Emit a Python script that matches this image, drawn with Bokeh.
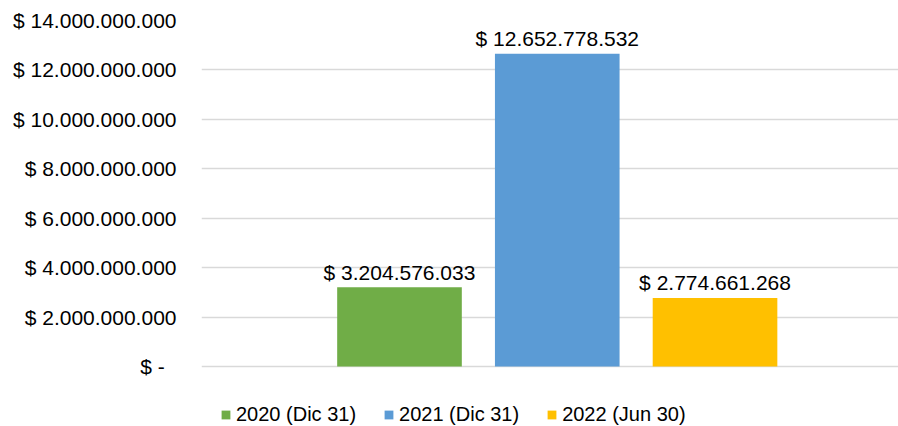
from bokeh.plotting import figure
from bokeh.models import Range1d, FixedTicker, Legend, LegendItem, ColumnDataSource
from bokeh.core.properties import value
from bokeh.embed import file_html
from bokeh.resources import INLINE

# ---- data ----
series = ["2020 (Dic 31)", "2021 (Dic 31)", "2022 (Jun 30)"]
amounts = [3204576033, 12652778532, 2774661268]
amount_labels = ["$ 3.204.576.033", "$ 12.652.778.532", "$ 2.774.661.268"]
colors = ["#70AD47", "#5B9BD5", "#FFC000"]
tick_values = [0, 2000000000, 4000000000, 6000000000, 8000000000,
               10000000000, 12000000000, 14000000000]
tick_labels = ["$ -\u00a0\u00a0", "$ 2.000.000.000", "$ 4.000.000.000", "$ 6.000.000.000",
               "$ 8.000.000.000", "$ 10.000.000.000", "$ 12.000.000.000",
               "$ 14.000.000.000"]

FONT = "Liberation Sans"
FS = "21px"
LFS = "20px"

# frame spans 20..426 px; 0..14e9 occupies 20..366, the rest holds the legend
y_top = 14000000000
y_bottom = -y_top * 60 / 346

p = figure(width=898, height=426, output_backend="svg", toolbar_location=None,
           x_range=Range1d(-1.255, 3.163), y_range=Range1d(y_bottom, y_top),
           min_border_left=201, min_border_right=0, min_border_top=20,
           min_border_bottom=0)
p.outline_line_color = None
p.background_fill_color = "white"
p.border_fill_color = "white"

p.xaxis.visible = False
p.xgrid.visible = False
p.ygrid.grid_line_color = "#D9D9D9"
p.ygrid.grid_line_width = 1.4

yax = p.yaxis[0]
yax.ticker = FixedTicker(ticks=tick_values)
yax.major_label_overrides = {v: l for v, l in zip(tick_values, tick_labels)}
yax.axis_line_color = None
yax.major_tick_line_color = None
yax.minor_tick_line_color = None
yax.major_tick_out = 0
yax.major_tick_in = 0
yax.major_label_standoff = 25
yax.major_label_text_font = FONT
yax.major_label_text_font_size = FS
yax.major_label_text_color = "#000000"

items = []
for i, (name, amt, col) in enumerate(zip(series, amounts, colors)):
    src = ColumnDataSource(dict(x=[i], top=[amt]))
    r = p.vbar(x="x", top="top", bottom=0, width=0.79, source=src,
               fill_color=col, line_color=None)
    items.append(LegendItem(label=name, renderers=[r]))

lab_src = ColumnDataSource(dict(x=list(range(len(amounts))), y=amounts, t=amount_labels))
p.text(x="x", y="y", text="t", source=lab_src, text_align="center",
       text_baseline="alphabetic", y_offset=-15,
       text_font=value(FONT), text_font_size=FS, text_color="#000000")

legend = Legend(items=items, orientation="horizontal", location=(19, 0),
                glyph_width=11, glyph_height=11, label_standoff=5, spacing=27,
                padding=0, margin=0, border_line_color=None,
                background_fill_alpha=0,
                label_text_font=FONT, label_text_font_size=LFS,
                label_text_color="#000000")
p.add_layout(legend, "center")

open("out.html", "w").write(file_html(p, INLINE))
